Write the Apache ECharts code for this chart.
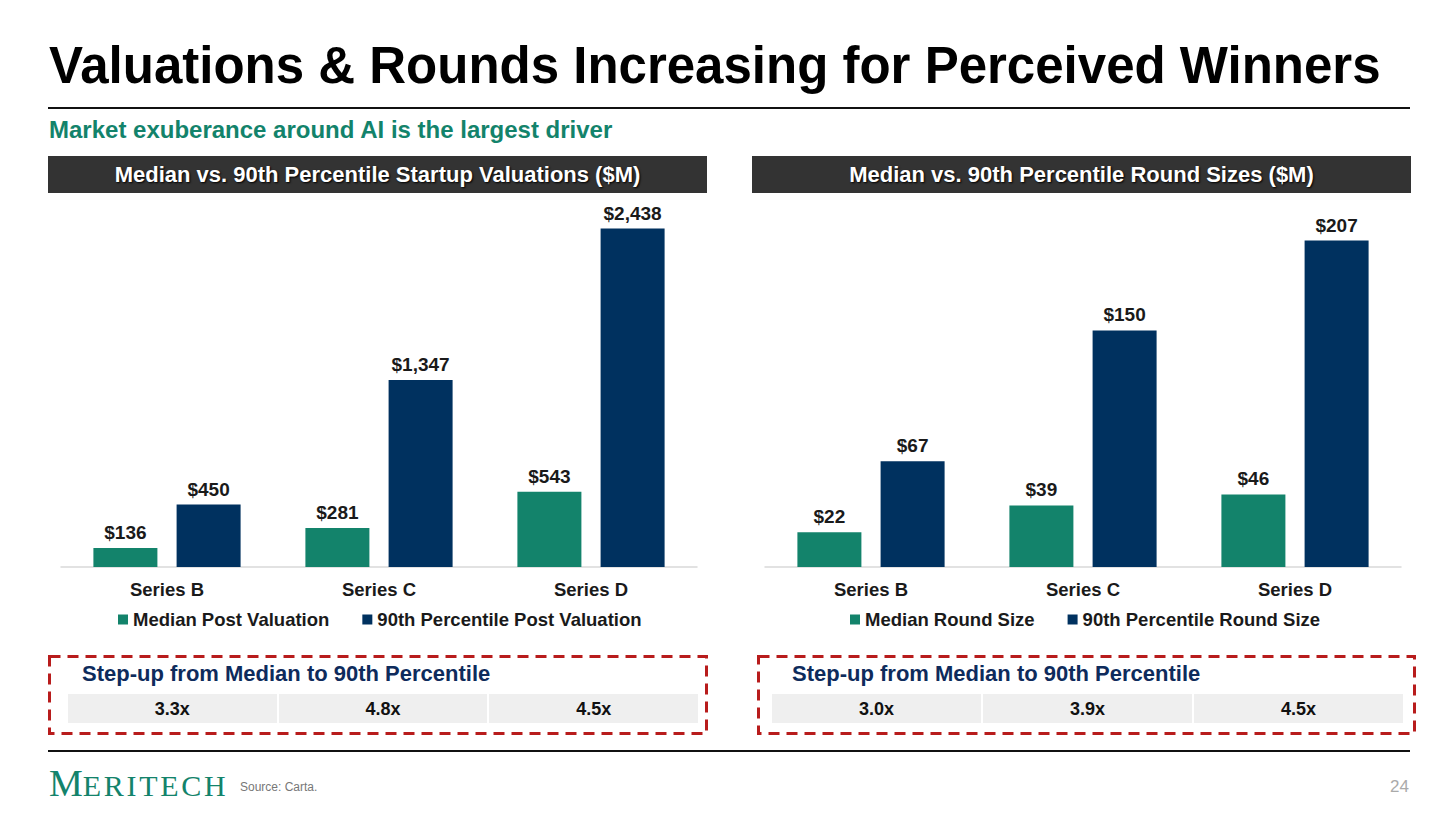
<!DOCTYPE html>
<html lang="en">
<head>
<meta charset="UTF-8">
<title>Valuations & Rounds Increasing for Perceived Winners</title>
<script src="https://cdn.jsdelivr.net/npm/echarts@6/dist/echarts.min.js"></script>
<style>
    html, body { margin: 0; padding: 0; background: #fff; }
    body { width: 1456px; height: 818px; position: relative; overflow: hidden;
           font-family: "Liberation Sans", Arial, sans-serif; }
    .abs { position: absolute; }
    #title { left: 49px; top: 37px; font-size: 51px; line-height: 1.15; font-weight: bold; color: #000; white-space: nowrap; }
    #subtitle { left: 49px; top: 116px; font-size: 24px; line-height: 1.15; font-weight: bold; color: #13836b; white-space: nowrap; }
    .rule { left: 48px; width: 1362px; height: 2px; background: #111; }
    .bar-head { top: 156px; height: 37px; background: #333333; color: #fff; font-size: 22px; font-weight: bold;
                text-align: center; line-height: 37px; text-shadow: 1px 1px 2px #000; white-space: nowrap; }
    #charts { left: 0; top: 195px; width: 1456px; height: 450px; }
    .stepup { font-size: 22px; line-height: 1.15; font-weight: bold; color: #0e2b5c; white-space: nowrap; }
    .cell { top: 694px; height: 29px; background: #efefef; font-size: 18px; font-weight: bold; color: #111;
            text-align: center; line-height: 31px; }
    #logo { left: 49px; top: 762px; font-family: "Liberation Serif", "DejaVu Serif", serif;
            color: #13836b; white-space: nowrap; line-height: 1.15; }
    #logo .big { font-size: 38px; }
    #logo .small { font-size: 30px; letter-spacing: 2.7px; }
    #source { left: 240px; top: 780px; font-size: 12px; color: #777; }
    #page { left: 1390px; top: 777px; font-size: 17px; color: #aaa; }
</style>
</head>
<body>
<div id="title" class="abs">Valuations &amp; Rounds Increasing for Perceived Winners</div>
<div class="abs rule" style="top:107px"></div>
<div id="subtitle" class="abs">Market exuberance around AI is the largest driver</div>

<div class="abs bar-head" style="left:48px;width:659px">Median vs. 90th Percentile Startup Valuations ($M)</div>
<div class="abs bar-head" style="left:752px;width:659px">Median vs. 90th Percentile Round Sizes ($M)</div>

<div id="charts" class="abs"></div>

<svg class="abs" style="left:0;top:0" width="1456" height="818">
    <rect x="49.5" y="656.5" width="657" height="77" fill="none" stroke="#b81c1c" stroke-width="3" stroke-dasharray="11 7"/>
    <rect x="758.5" y="656.5" width="656" height="77" fill="none" stroke="#b81c1c" stroke-width="3" stroke-dasharray="11 7"/>
</svg>

<div class="abs stepup" style="left:82px;top:661px">Step-up from Median to 90th Percentile</div>
<div class="abs stepup" style="left:792px;top:661px">Step-up from Median to 90th Percentile</div>
<div id="stepLeft"></div>
<div id="stepRight"></div>

<div class="abs rule" style="top:750px"></div>
<div id="logo" class="abs"><span class="big">M</span><span class="small">ERITECH</span></div>
<div id="source" class="abs">Source: Carta.</div>
<div id="page" class="abs">24</div>

<script>
    // 数据
    var categories = ['Series B', 'Series C', 'Series D'];
    var medianValuation = [136, 281, 543];
    var topValuation = [450, 1347, 2438];
    var medianRound = [22, 39, 46];
    var topRound = [67, 150, 207];
    var stepValuation = ['3.3x', '4.8x', '4.5x'];
    var stepRound = ['3.0x', '3.9x', '4.5x'];

    var GREEN = '#13836b';
    var NAVY = '#00315f';
    var FONT = '"Liberation Sans", Arial, sans-serif';

    // 倍数表格
    function drawCells(list, left, width) {
        var w = (width - 4) / 3;
        var html = '';
        for (var i = 0; i < list.length; i++) {
            html += '<div class="abs cell" style="left:' + (left + i * (w + 2)) + 'px;width:' + w + 'px">' + list[i] + '</div>';
        }
        return html;
    }
    document.getElementById('stepLeft').innerHTML = drawCells(stepValuation, 68, 630);
    document.getElementById('stepRight').innerHTML = drawCells(stepRound, 772, 631);

    var chart = echarts.init(document.getElementById('charts'), null, {renderer: 'svg'});

    var label = {
        show: true,
        position: 'top',
        distance: 6,
        fontFamily: FONT,
        fontSize: 19,
        fontWeight: 'bold',
        color: '#1a1a1a',
        formatter: function (p) { return '$' + p.value.toLocaleString('en-US'); }
    };

    function xAxis(idx) {
        return {
            type: 'category',
            gridIndex: idx,
            data: categories,
            axisTick: {show: false},
            axisLine: {lineStyle: {color: '#d9d9d9', width: 1.5}},
            axisLabel: {margin: 13, fontFamily: FONT, fontSize: 18.5, fontWeight: 'bold', color: '#1a1a1a'}
        };
    }

    function yAxis(idx, max) {
        return {
            type: 'value', gridIndex: idx, min: 0, max: max,
            show: false, splitLine: {show: false}
        };
    }

    function bar(name, idx, data, color) {
        return {
            name: name, type: 'bar', xAxisIndex: idx, yAxisIndex: idx,
            data: data, barWidth: 64, barGap: '30%',
            itemStyle: {color: color},
            label: label
        };
    }

    var legendText = {fontFamily: FONT, fontSize: 18.5, fontWeight: 'bold', color: '#1a1a1a'};

    chart.setOption({
        animation: false,
        grid: [
            {left: 61, top: 25, width: 636, height: 347},
            {left: 765, top: 25, width: 636, height: 347}
        ],
        xAxis: [xAxis(0), xAxis(1)],
        yAxis: [yAxis(0, 2500), yAxis(1, 220)],
        legend: [
            {
                left: 113, top: 410, itemWidth: 10, itemHeight: 10, itemGap: 33,
                icon: 'rect', textStyle: legendText,
                data: ['Median Post Valuation', '90th Percentile Post Valuation']
            },
            {
                left: 845, top: 410, itemWidth: 10, itemHeight: 10, itemGap: 33,
                icon: 'rect', textStyle: legendText,
                data: ['Median Round Size', '90th Percentile Round Size']
            }
        ],
        series: [
            bar('Median Post Valuation', 0, medianValuation, GREEN),
            bar('90th Percentile Post Valuation', 0, topValuation, NAVY),
            bar('Median Round Size', 1, medianRound, GREEN),
            bar('90th Percentile Round Size', 1, topRound, NAVY)
        ]
    });
</script>
</body>
</html>
